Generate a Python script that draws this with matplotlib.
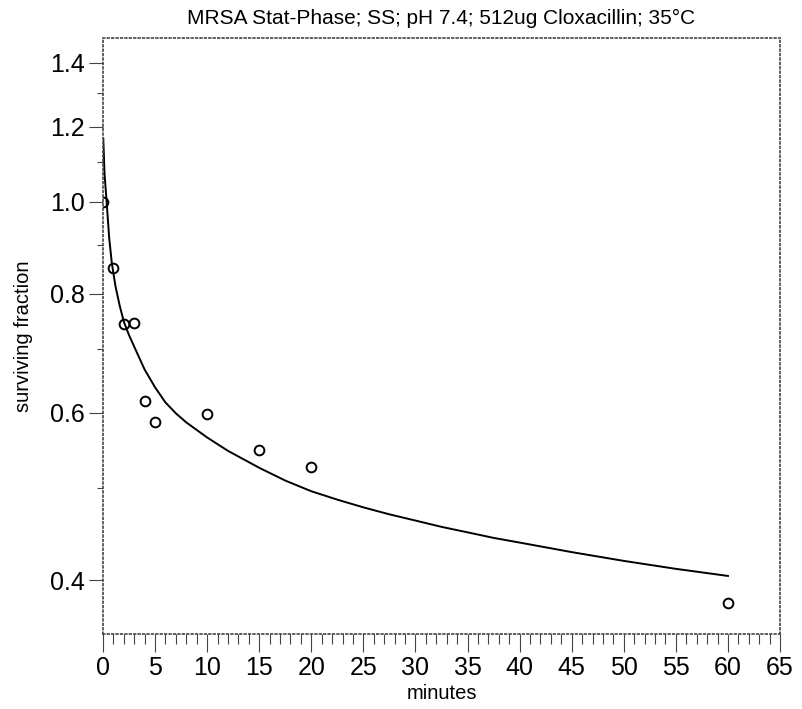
import numpy as np
import matplotlib
matplotlib.use("Agg")
import matplotlib.pyplot as plt
from matplotlib.ticker import FixedLocator, FormatStrFormatter, NullFormatter, MultipleLocator

plt.rcParams['font.family'] = ['Liberation Sans', 'DejaVu Sans']

# measured points
minutes = [0, 1, 2, 3, 4, 5, 10, 15, 20, 60]
surviving = [1.0, 0.852, 0.744, 0.746, 0.617, 0.587, 0.598, 0.548, 0.526, 0.378]

# fitted curve
fit_t = [0.03, 0.15, 0.35, 0.6, 0.85, 1.2, 1.6, 2, 2.5, 3, 4, 5, 6, 7, 8, 10, 12,
         15, 17.5, 20, 22.5, 25, 27.5, 30, 32.5, 35, 37.5, 40, 45, 50, 55, 60]
fit_y = [1.165, 1.07, 1.0, 0.915, 0.862, 0.815, 0.778, 0.748, 0.724, 0.704, 0.666,
         0.638, 0.615, 0.599, 0.586, 0.565, 0.547, 0.525, 0.509, 0.496, 0.486,
         0.477, 0.469, 0.462, 0.455, 0.449, 0.443, 0.438, 0.428, 0.419, 0.411,
         0.404]

y_major = [0.4, 0.6, 0.8, 1.0, 1.2, 1.4]
y_minor = [0.5, 0.7, 0.9, 1.1, 1.3]

fig = plt.figure(figsize=(8.02, 7.09), dpi=100)
ax = fig.add_axes([0.1284, 0.1058, 0.8442, 0.8406])

ax.plot(fit_t, fit_y, color="black", lw=1.4, solid_joinstyle="round")
ax.plot(minutes, surviving, "o", mfc="none", mec="black", ms=7, mew=1.4)

ax.set_yscale("log")
ax.set_xlim(0, 65)
ax.set_ylim(0.351, 1.487)

ax.yaxis.set_major_locator(FixedLocator(y_major))
ax.yaxis.set_major_formatter(FormatStrFormatter("%.1f"))
ax.yaxis.set_minor_locator(FixedLocator(y_minor))
ax.yaxis.set_minor_formatter(NullFormatter())
ax.xaxis.set_major_locator(MultipleLocator(5))
ax.xaxis.set_minor_locator(MultipleLocator(1))

ax.tick_params(axis="both", which="major", labelsize=18, color="#444444", width=0.8)
ax.tick_params(axis="y", which="major", length=10, pad=3)
ax.tick_params(axis="x", which="major", length=13, pad=3)
ax.tick_params(axis="y", which="minor", length=4, color="#444444", width=0.8)
ax.tick_params(axis="x", which="minor", length=7, color="#444444", width=0.8)

for s in ax.spines.values():
    s.set_linestyle(":")
    s.set_color("#444444")
    s.set_linewidth(1.2)

ax.set_title("MRSA Stat-Phase; SS; pH 7.4; 512ug Cloxacillin; 35°C", fontsize=15, pad=10)
ax.set_xlabel("minutes", fontsize=14.5, labelpad=3)
ax.set_ylabel("surviving fraction", fontsize=14.5, labelpad=12)

fig.savefig("out.png", dpi=100)
